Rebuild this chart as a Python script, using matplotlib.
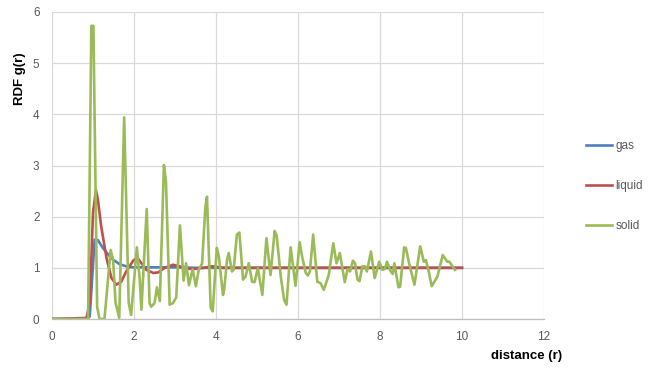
import matplotlib
matplotlib.use("Agg")
import matplotlib.pyplot as plt

plt.rcParams["font.family"] = ["Liberation Sans", "DejaVu Sans"]

GAS_COLOR = "#4F81BD"
LIQUID_COLOR = "#C0504D"
SOLID_COLOR = "#9BBB59"
GRID_COLOR = "#D9D9D9"
TEXT_COLOR = "#595959"

# gas
gas_r = [0.0, 0.86, 0.92, 1.04, 1.12, 1.24, 1.37, 1.49, 1.65, 1.81, 1.98,
         2.5, 3.0, 3.5, 4.0, 5.0, 6.0, 7.0, 8.0, 9.0, 10.0]
gas_g = [0.0, 0.0, 0.05, 1.55, 1.54, 1.39, 1.26, 1.16, 1.07, 1.03, 1.01,
         1.01, 1.01, 1.0, 1.0, 1.0, 1.0, 1.0, 1.0, 1.0, 1.0]

# liquid
liquid_r = [0.0, 0.84, 0.92, 1.00, 1.07, 1.12, 1.20, 1.33, 1.45, 1.57, 1.69,
            1.81, 1.98, 2.08, 2.18, 2.30, 2.47, 2.59, 2.75, 2.95, 3.11, 3.28,
            3.48, 3.70, 3.90, 4.20, 5.0, 6.0, 7.0, 8.0, 9.0, 10.0]
liquid_g = [0.0, 0.02, 0.31, 2.07, 2.52, 2.33, 1.81, 1.19, 0.80, 0.67, 0.73,
            0.93, 1.14, 1.20, 1.09, 0.96, 0.90, 0.91, 1.00, 1.06, 1.03, 0.98,
            0.98, 1.00, 1.03, 1.00, 1.0, 1.0, 1.0, 1.0, 1.0, 1.0]

# solid
solid_r = [0.0, 0.88, 0.96, 1.01, 1.10, 1.16, 1.28, 1.43, 1.49, 1.55, 1.64,
           1.76, 1.87, 1.93, 2.07, 2.14, 2.18, 2.31, 2.38, 2.42, 2.50, 2.56,
           2.63, 2.73, 2.78, 2.87, 2.95, 3.03, 3.12, 3.21, 3.27, 3.34, 3.43,
           3.51, 3.58, 3.66, 3.74, 3.78, 3.87, 3.92, 4.02, 4.07, 4.17, 4.20,
           4.27, 4.31, 4.39, 4.43, 4.51, 4.57, 4.66, 4.72, 4.80, 4.88, 4.94,
           5.02, 5.13, 5.23, 5.33, 5.43, 5.48, 5.58, 5.66, 5.72, 5.82, 5.94,
           6.04, 6.10, 6.19, 6.24, 6.29, 6.37, 6.47, 6.55, 6.63, 6.75, 6.86,
           6.94, 7.02, 7.14, 7.21, 7.27, 7.34, 7.39, 7.45, 7.50, 7.57, 7.63,
           7.68, 7.78, 7.87, 7.98, 8.06, 8.12, 8.17, 8.25, 8.31, 8.35, 8.45,
           8.49, 8.59, 8.63, 8.71, 8.84, 8.98, 9.07, 9.12, 9.18, 9.26, 9.40,
           9.53, 9.64, 9.69, 9.83]
solid_g = [0.0, 0.0, 5.73, 5.73, 0.24, 0.0, 0.0, 1.35, 1.16, 0.32, 0.02,
           3.94, 0.32, 0.08, 1.40, 0.77, 0.18, 2.15, 0.31, 0.24, 0.31, 0.62,
           0.35, 3.01, 2.68, 0.28, 0.31, 0.42, 1.83, 0.75, 1.09, 0.66, 0.97,
           0.64, 0.97, 1.08, 2.18, 2.39, 0.22, 0.15, 1.39, 1.22, 0.47, 0.57,
           1.16, 1.29, 0.93, 0.96, 1.65, 1.69, 0.77, 0.83, 1.09, 0.73, 0.72,
           0.99, 0.47, 1.58, 0.86, 1.72, 1.63, 0.83, 0.38, 0.28, 1.40, 0.65,
           1.50, 1.22, 0.90, 0.85, 0.93, 1.65, 0.73, 0.70, 0.57, 0.86, 1.48,
           1.09, 1.29, 0.72, 0.98, 0.93, 1.14, 1.09, 0.77, 0.74, 1.03, 1.03,
           0.93, 1.32, 0.80, 1.12, 0.96, 0.98, 1.12, 0.95, 0.88, 1.09, 0.62,
           0.63, 1.40, 1.39, 1.09, 0.67, 1.42, 1.12, 1.15, 0.96, 0.64, 0.83,
           1.25, 1.12, 1.12, 0.96]

fig = plt.figure(figsize=(6.53, 3.72), dpi=100)
ax = fig.add_axes([52 / 653, 53 / 372, 492 / 653, 307 / 372])

ax.plot(gas_r, gas_g, color=GAS_COLOR, lw=1.9, label="gas")
ax.plot(liquid_r, liquid_g, color=LIQUID_COLOR, lw=1.9, label="liquid")
ax.plot(solid_r, solid_g, color=SOLID_COLOR, lw=1.9, label="solid")

ax.set_xlim(0, 12)
ax.set_ylim(0, 6)
ax.set_xticks(range(0, 13, 2))
ax.set_yticks(range(0, 7))
ax.grid(True, color=GRID_COLOR, lw=0.9)
ax.set_axisbelow(True)
for side in ["top", "right", "left"]:
    ax.spines[side].set_visible(False)
ax.spines["bottom"].set_color("#BFBFBF")
ax.spines["bottom"].set_linewidth(0.9)
ax.tick_params(length=0, colors=TEXT_COLOR, labelsize=8.5)
ax.tick_params(axis="x", pad=9)
ax.tick_params(axis="y", pad=9)

fig.text(20 / 653, 1 - 79 / 372, "RDF g(r)", rotation=90, ha="center", va="center",
         fontsize=9.5, fontweight="bold")
fig.text(527 / 653, 1 - 356 / 372, "distance (r)", ha="center", va="center",
         fontsize=9.5, fontweight="bold")

fig.legend(loc="center left", bbox_to_anchor=(586 / 653, 0.5), frameon=False,
           fontsize=8.5, labelcolor=TEXT_COLOR, handlelength=2.2, handletextpad=0.3,
           labelspacing=2.4, borderpad=0, borderaxespad=0)

fig.savefig("out.png", dpi=100)
